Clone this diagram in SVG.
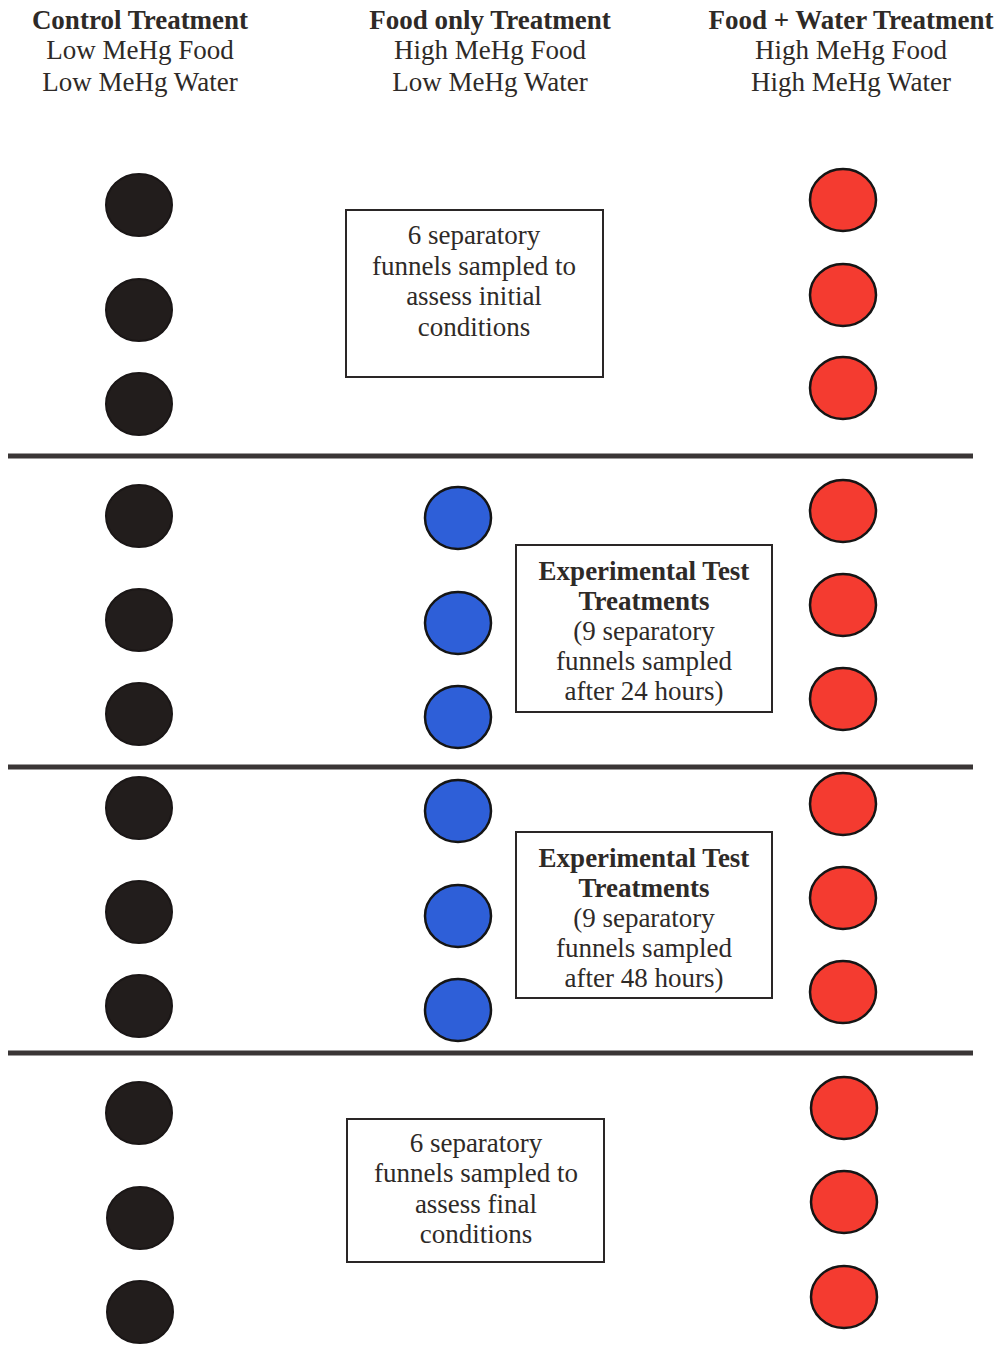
<svg xmlns="http://www.w3.org/2000/svg" width="1005" height="1346" viewBox="0 0 1005 1346">
<style>
text{font-family:"Liberation Serif","Times New Roman",serif;font-size:27px;fill:#2e2a27;text-anchor:middle}
.b{font-weight:bold}
.k{fill:#221d1c;stroke:#1a1616;stroke-width:2}
.u{fill:#2e5fd8;stroke:#151515;stroke-width:2.5}
.r{fill:#f43b30;stroke:#151515;stroke-width:2.5}
.bx{fill:#fff;stroke:#2a2626;stroke-width:2}
.ln{stroke:#3a3636;stroke-width:5}
</style>
<rect width="1005" height="1346" fill="#fff"/>
<g id="headers">
<text class="b" x="140" y="29">Control Treatment</text>
<text x="140" y="59">Low MeHg Food</text>
<text x="140" y="91">Low MeHg Water</text>
<text class="b" x="490" y="29">Food only Treatment</text>
<text x="490" y="59">High MeHg Food</text>
<text x="490" y="91">Low MeHg Water</text>
<text class="b" x="851" y="29">Food + Water Treatment</text>
<text x="851" y="59">High MeHg Food</text>
<text x="851" y="91">High MeHg Water</text>
</g>
<g id="dividers">
<line class="ln" x1="8" y1="456" x2="973" y2="456"/>
<line class="ln" x1="8" y1="767" x2="973" y2="767"/>
<line class="ln" x1="8" y1="1053" x2="973" y2="1053"/>
</g>
<g id="control">
<ellipse class="k" cx="139" cy="205" rx="33" ry="31"/>
<ellipse class="k" cx="139" cy="310" rx="33" ry="31"/>
<ellipse class="k" cx="139" cy="404" rx="33" ry="31"/>
<ellipse class="k" cx="139" cy="516" rx="33" ry="31"/>
<ellipse class="k" cx="139" cy="620" rx="33" ry="31"/>
<ellipse class="k" cx="139" cy="714" rx="33" ry="31"/>
<ellipse class="k" cx="139" cy="808" rx="33" ry="31"/>
<ellipse class="k" cx="139" cy="912" rx="33" ry="31"/>
<ellipse class="k" cx="139" cy="1006" rx="33" ry="31"/>
<ellipse class="k" cx="139" cy="1113" rx="33" ry="31"/>
<ellipse class="k" cx="140" cy="1218" rx="33" ry="31"/>
<ellipse class="k" cx="140" cy="1312" rx="33" ry="31"/>
</g>
<g id="foodonly">
<ellipse class="u" cx="458" cy="518" rx="33" ry="31"/>
<ellipse class="u" cx="458" cy="623" rx="33" ry="31"/>
<ellipse class="u" cx="458" cy="717" rx="33" ry="31"/>
<ellipse class="u" cx="458" cy="811" rx="33" ry="31"/>
<ellipse class="u" cx="458" cy="916" rx="33" ry="31"/>
<ellipse class="u" cx="458" cy="1010" rx="33" ry="31"/>
</g>
<g id="foodwater">
<ellipse class="r" cx="843" cy="200" rx="33" ry="31"/>
<ellipse class="r" cx="843" cy="295" rx="33" ry="31"/>
<ellipse class="r" cx="843" cy="388" rx="33" ry="31"/>
<ellipse class="r" cx="843" cy="511" rx="33" ry="31"/>
<ellipse class="r" cx="843" cy="605" rx="33" ry="31"/>
<ellipse class="r" cx="843" cy="699" rx="33" ry="31"/>
<ellipse class="r" cx="843" cy="804" rx="33" ry="31"/>
<ellipse class="r" cx="843" cy="898" rx="33" ry="31"/>
<ellipse class="r" cx="843" cy="992" rx="33" ry="31"/>
<ellipse class="r" cx="844" cy="1108" rx="33" ry="31"/>
<ellipse class="r" cx="844" cy="1202" rx="33" ry="31"/>
<ellipse class="r" cx="844" cy="1297" rx="33" ry="31"/>
</g>
<g id="box-initial">
<rect class="bx" x="346" y="210" width="257" height="167"/>
<text x="474" y="244">6 separatory</text>
<text x="474" y="275">funnels sampled to</text>
<text x="474" y="305">assess initial</text>
<text x="474" y="336">conditions</text>
</g>
<g id="box-24h">
<rect class="bx" x="516" y="545" width="256" height="167"/>
<text class="b" x="644" y="580">Experimental Test</text>
<text class="b" x="644" y="610">Treatments</text>
<text x="644" y="640">(9 separatory</text>
<text x="644" y="670">funnels sampled</text>
<text x="644" y="700">after 24 hours)</text>
</g>
<g id="box-48h">
<rect class="bx" x="516" y="832" width="256" height="166"/>
<text class="b" x="644" y="867">Experimental Test</text>
<text class="b" x="644" y="897">Treatments</text>
<text x="644" y="927">(9 separatory</text>
<text x="644" y="957">funnels sampled</text>
<text x="644" y="987">after 48 hours)</text>
</g>
<g id="box-final">
<rect class="bx" x="347" y="1119" width="257" height="143"/>
<text x="476" y="1152">6 separatory</text>
<text x="476" y="1182">funnels sampled to</text>
<text x="476" y="1213">assess final</text>
<text x="476" y="1243">conditions</text>
</g>
</svg>
